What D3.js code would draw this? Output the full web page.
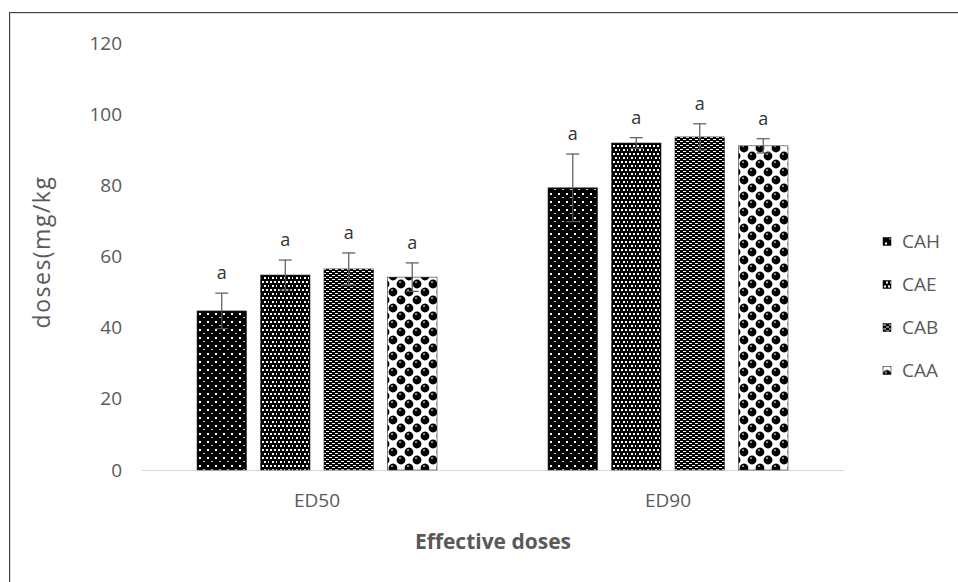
<!DOCTYPE html>
<html><head><meta charset="utf-8">
<script src="https://cdn.jsdelivr.net/npm/d3@7"></script>
<style>body{margin:0;background:#fff}svg{display:block}</style>
</head><body><svg id="c" width="958" height="582"></svg>
<script>
const categories = ["ED50", "ED90"];
const seriesNames = ["CAH", "CAE", "CAB", "CAA"];
const valuesCAH = [44.7, 79.3];
const valuesCAE = [54.8, 91.9];
const valuesCAB = [56.5, 93.6];
const valuesCAA = [54.2, 91.1];
const errCAH = [5.0, 9.5];
const errCAE = [4.2, 1.5];
const errCAB = [4.5, 3.7];
const errCAA = [4.0, 2.0];
const sigLetters = ["a", "a", "a", "a", "a", "a", "a", "a"];
const yTicks = [0, 20, 40, 60, 80, 100, 120];

const values = [valuesCAH, valuesCAE, valuesCAB, valuesCAA];
const errs = [errCAH, errCAE, errCAB, errCAA];

const svg = d3.select("#c");
const defs = svg.append("defs");

function pat(id, w, h) {
  return defs.append("pattern").attr("id", id).attr("patternUnits", "userSpaceOnUse")
    .attr("width", w).attr("height", h);
}
// CAH: black with sparse white dots
let p = pat("pCAH", 16, 8);
p.append("rect").attr("width", 16).attr("height", 8).attr("fill", "#000");
p.append("rect").attr("x", 2).attr("y", 1).attr("width", 2).attr("height", 2).attr("fill", "#fff");
p.append("rect").attr("x", 10).attr("y", 1).attr("width", 2).attr("height", 2).attr("fill", "#fff");
p.append("rect").attr("x", 6).attr("y", 5).attr("width", 2).attr("height", 1).attr("fill", "#ccc");
p.append("rect").attr("x", 14).attr("y", 5).attr("width", 2).attr("height", 1).attr("fill", "#ccc");
// CAE: black with dense white dots
p = pat("pCAE", 8, 8);
p.append("rect").attr("width", 8).attr("height", 8).attr("fill", "#000");
[[1,1],[5,1],[3,5],[7,5]].forEach(([x,y]) =>
  p.append("rect").attr("x", x).attr("y", y).attr("width", 2).attr("height", 2).attr("fill", "#fff"));
// CAB: horizontal dashes
p = pat("pCAB", 6, 4);
p.append("rect").attr("width", 6).attr("height", 4).attr("fill", "#000");
p.append("rect").attr("x", 0).attr("y", 1).attr("width", 3).attr("height", 1).attr("fill", "#fff");
p.append("rect").attr("x", 3).attr("y", 3).attr("width", 3).attr("height", 1).attr("fill", "#fff");
// CAA: checkerboard of black balls and white cells
p = pat("pCAA", 16, 16);
p.append("rect").attr("width", 16).attr("height", 16).attr("fill", "#fff");
[[4,4],[12,12],[12,-4],[-4,12],[20,12],[12,20],[4,20],[20,4]].forEach(([x,y]) => {
  p.append("circle").attr("cx", x).attr("cy", y).attr("r", 4.4).attr("fill", "#000");
});
[[4,4],[12,12]].forEach(([x,y]) => {
  p.append("rect").attr("x", x - 2).attr("y", y - 2.5).attr("width", 2).attr("height", 1.2).attr("fill", "#ddd");
});
const fills = seriesNames.map(s => "url(#p" + s + ")");

// Frame
svg.append("rect").attr("x", 9.5).attr("y", 12.5).attr("width", 960).attr("height", 600)
  .attr("fill", "none").attr("stroke", "#404040").attr("stroke-width", 1);
svg.append("line").attr("x1", 10.5).attr("x2", 960).attr("y1", 13.5).attr("y2", 13.5).attr("stroke", "#ddd");
svg.append("line").attr("x1", 10.5).attr("x2", 10.5).attr("y1", 13.5).attr("y2", 600).attr("stroke", "#ddd");

const y = d3.scaleLinear().domain([0, 120]).range([470, 43]);
const x0 = d3.scaleBand().domain(categories).range([141.5, 843.5]);
const x1 = d3.scaleBand().domain(seriesNames).range([0, 240]).paddingInner(0.22);
const groupOffset = (x0.bandwidth() - 240) / 2;

const textColor = "#595959";
const font = "'Open Sans', 'Liberation Sans', sans-serif";

// Y axis labels
const yAxis = d3.axisLeft(y).tickValues(yTicks).tickSize(0).tickPadding(0);
const gy = svg.append("g").attr("transform", "translate(122,0)").call(yAxis);
gy.select(".domain").remove();
gy.selectAll("text").attr("fill", textColor).attr("font-size", 19).attr("font-family", font);

// X axis
const xAxis = d3.axisBottom(x0).tickSize(0).tickPadding(24);
const gx = svg.append("g").attr("transform", "translate(0,470)").call(xAxis);
gx.select(".domain").attr("stroke", "#d9d9d9").attr("stroke-width", 1.2);
gx.selectAll("text").attr("fill", textColor).attr("font-size", 19).attr("font-family", font);

// Bars
const groups = svg.append("g").selectAll("g").data(categories).join("g")
  .attr("transform", d => `translate(${x0(d) + groupOffset},0)`);
groups.each(function(cat, ci) {
  const g = d3.select(this);
  seriesNames.forEach((s, si) => {
    const v = values[si][ci], e = errs[si][ci];
    const bx = x1(s), bw = x1.bandwidth(), cx = bx + bw / 2;
    g.append("rect").attr("x", bx).attr("y", y(v)).attr("width", bw).attr("height", y(0) - y(v))
      .attr("fill", fills[si]).attr("stroke", "#333").attr("stroke-width", 0.6);
    const eg = g.append("g").attr("stroke", "#595959").attr("stroke-width", 1.2);
    eg.append("line").attr("x1", cx).attr("x2", cx).attr("y1", y(v + e)).attr("y2", y(v - e));
    eg.append("line").attr("x1", cx - 6.5).attr("x2", cx + 6.5).attr("y1", y(v + e)).attr("y2", y(v + e));
    eg.append("line").attr("x1", cx - 6.5).attr("x2", cx + 6.5).attr("y1", y(v - e)).attr("y2", y(v - e));
    g.append("text").attr("x", cx).attr("y", y(v + e) - 14).attr("text-anchor", "middle")
      .attr("font-size", 18).attr("font-family", font).attr("fill", "#333")
      .text(sigLetters[ci * 4 + si]);
  });
});

// Axis titles
svg.append("text").attr("transform", "translate(50,252) rotate(-90)").attr("text-anchor", "middle")
  .attr("font-size", 23).attr("letter-spacing", 1.5).attr("font-family", font).attr("fill", textColor).text("doses(mg/kg");
svg.append("text").attr("x", 493).attr("y", 549).attr("text-anchor", "middle")
  .attr("font-size", 21).attr("font-weight", "bold").attr("font-family", font).attr("fill", textColor)
  .text("Effective doses");

// Legend
const legend = svg.append("g").selectAll("g").data(seriesNames).join("g")
  .attr("transform", (d, i) => `translate(883,${241.5 + i * 43})`);
legend.append("rect").attr("x", 0).attr("y", -4).attr("width", 8).attr("height", 8)
  .attr("fill", (d, i) => fills[i]).attr("stroke", "#000").attr("stroke-width", 0.5);
legend.append("text").attr("x", 19).attr("y", 0).attr("dy", "0.35em")
  .attr("font-size", 19).attr("font-family", font).attr("fill", textColor).text(d => d);
</script></body></html>
